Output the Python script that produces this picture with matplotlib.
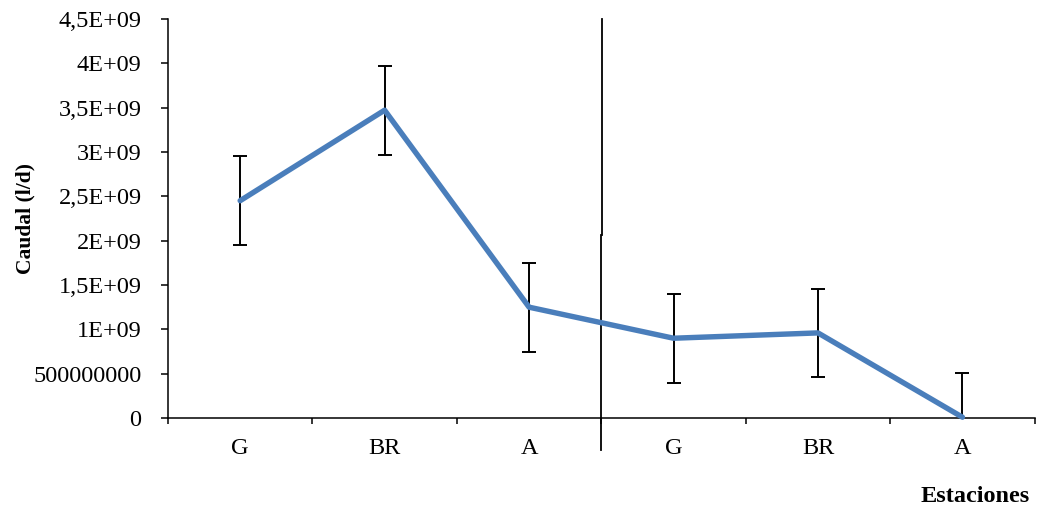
import matplotlib
matplotlib.use("Agg")
import matplotlib.pyplot as plt

# stations (two campaigns), flow in l/d and its error
estaciones = ["G", "BR", "A", "G", "BR", "A"]
caudal = [2.45e9, 3.47e9, 1.25e9, 0.90e9, 0.96e9, 0.01e9]
error = [5e8, 5e8, 5e8, 5e8, 5e8, 5e8]
yticks = [0, 5e8, 1e9, 1.5e9, 2e9, 2.5e9, 3e9, 3.5e9, 4e9, 4.5e9]
ytick_labels = ["0", "500000000", "1E+09", "1,5E+09", "2E+09", "2,5E+09",
                "3E+09", "3,5E+09", "4E+09", "4,5E+09"]
divisor = 2.5  # separator between the two campaigns (category units)

plt.rcParams["font.family"] = ["Liberation Serif", "DejaVu Serif"]
FS = 17.5

fig = plt.figure(figsize=(10.43, 5.08), dpi=100)
ax = fig.add_axes([0.161, 0.177, 0.831, 0.786])

x = list(range(len(estaciones)))
ax.errorbar(x, caudal, yerr=error, fmt="none", ecolor="black", elinewidth=1.4,
            capsize=4.7, capthick=1.4, zorder=2)
ax.plot(x, caudal, color="#4A7EBB", lw=3.9, solid_capstyle="round", zorder=3, clip_on=False)

ax.set_xlim(-0.5, len(estaciones) - 0.5)
ax.set_ylim(0, 4.5e9)

# campaign separator: drawn in two pieces, slightly offset
ax.plot([divisor + 0.007, divisor + 0.007], [2.06e9, 4.5e9], color="black", lw=1.3, clip_on=False)
ax.plot([divisor - 0.003, divisor - 0.003], [-0.36e9, 2.06e9], color="black", lw=1.3, clip_on=False)

for s in ("top", "right"):
    ax.spines[s].set_visible(False)
for s in ("left", "bottom"):
    ax.spines[s].set_linewidth(1.1)

ax.set_yticks(yticks)
ax.set_yticklabels(ytick_labels, fontsize=FS)
ax.tick_params(axis="y", direction="out", length=5, width=1.1, pad=14)

ax.set_xticks([i - 0.5 for i in range(len(estaciones) + 1)])
ax.set_xticklabels([])
ax.set_xticks(x, minor=True)
ax.set_xticklabels(estaciones, minor=True, fontsize=FS)
ax.tick_params(axis="x", which="major", direction="out", length=4.5, width=1.1)
ax.tick_params(axis="x", which="minor", length=0, pad=14)

ax.set_ylabel("Caudal (l/d)", fontsize=15.5, fontweight="bold")
ax.yaxis.set_label_coords(-0.153, 0.5)
fig.text(975 / 1043, 1 - 497 / 508, "Estaciones", ha="center", va="center",
         fontsize=FS, fontweight="bold")

fig.savefig("out.png", dpi=100)
